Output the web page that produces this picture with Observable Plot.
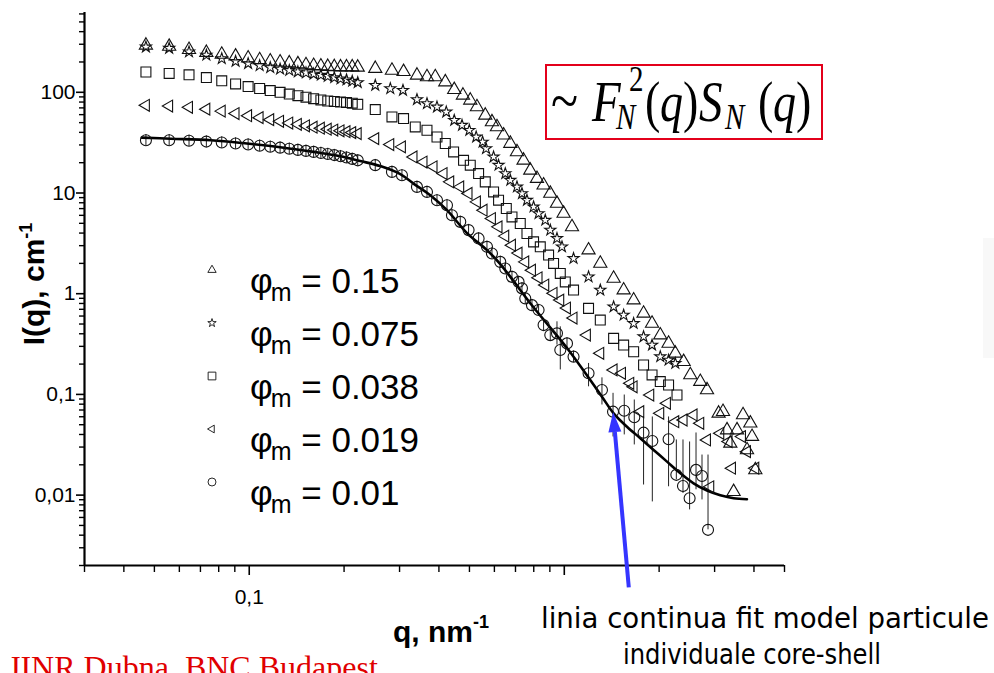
<!DOCTYPE html>
<html>
<head>
<meta charset="utf-8">
<script src="https://cdn.jsdelivr.net/npm/d3@7"></script>
<script src="https://cdn.jsdelivr.net/npm/@observablehq/plot@0.6"></script>
<style>
html,body{margin:0;padding:0;background:#fff;overflow:hidden}
#chart svg{display:block}
</style>
</head>
<body>
<div id="chart"></div>
<script>
// ---------------- data ----------------
// common low-q grid (first detector setting)
const qGrid = [0.047, 0.0557, 0.0644, 0.0731, 0.0818, 0.0905, 0.0992, 0.1079, 0.1166, 0.1253,
               0.134, 0.1427, 0.1514, 0.1601, 0.1688, 0.1775, 0.1862, 0.1949, 0.2036, 0.2123, 0.221];

// phi_m = 0.15 (triangles)
const triQ = [...qGrid, 0.2512, 0.2838, 0.3089, 0.3407, 0.3666, 0.3895, 0.4191, 0.4474, 0.4768, 0.503,
  0.5282, 0.5613, 0.5894, 0.6114, 0.6418, 0.6741, 0.7076, 0.7426, 0.78, 0.819,
  0.8596, 0.9027, 0.948, 0.9949, 1.058,
  1.194, 1.301, 1.434, 1.543, 1.66, 1.785, 1.899, 2.017, 2.143, 2.251,
  2.392, 2.512, 2.702, 2.838,
  3.089, 3.19, 3.693, 3.895, 3.285, 3.534, 3.944, 3.365, 3.802, 4.04, 3.447];
const triI = [293, 285, 265, 248, 238, 228, 218, 210, 204, 199, 195, 191, 187, 184, 182, 180, 179, 178, 178, 178, 177,
  172, 165, 160, 147.5, 142, 142, 126.5, 106, 93.4, 83.3,
  71.5, 59.1, 50.7, 45.3, 37.5, 31.0, 25.6, 21.1, 16.8, 13.9,
  11.95, 9.89, 7.87, 6.26, 4.61,
  2.71, 2.00, 1.42, 1.086, 0.864, 0.638, 0.507, 0.388, 0.321, 0.256,
  0.211, 0.156, 0.134, 0.1106,
  0.0649, 0.0674, 0.0625, 0.0517, 0.0443, 0.0443, 0.0381, 0.0327, 0.0281, 0.0178, 0.0108];

// phi_m = 0.075 (stars)
const starQ = [...qGrid, 0.2512, 0.2804, 0.3076, 0.3407, 0.3666, 0.3944, 0.4221, 0.4474, 0.4736, 0.4996,
  0.5252, 0.5505, 0.5646, 0.5964, 0.6185, 0.6497, 0.6741, 0.7076, 0.734, 0.7612,
  0.7989, 0.8287, 0.8703, 0.9027, 0.948, 0.9833,
  1.07, 1.194, 1.301, 1.434, 1.543, 1.66, 1.785, 1.899, 2.017, 2.143, 2.251];
const starI = [282, 274, 252, 234, 216, 203, 193, 184, 176, 170, 165, 160, 156, 152, 148, 144, 140, 136, 133, 129, 125,
  117.3, 108.8, 104.7, 84.7, 77.2, 71.5, 63.8, 52.7, 47.1, 42.0,
  36.0, 32.1, 27.6, 22.8, 18.9, 15.6, 13.4, 11.5, 9.89, 8.48,
  7.28, 6.26, 5.37, 4.28, 3.54, 2.92,
  2.24, 1.47, 1.086, 0.741, 0.613, 0.507, 0.374, 0.309, 0.237, 0.219, 0.203];

// phi_m = 0.038 (squares)
const sqQ = [...qGrid, 0.2512, 0.2838, 0.3089, 0.3365, 0.3666, 0.3944, 0.4191, 0.4453, 0.4789, 0.503,
  0.5346, 0.5613, 0.5964, 0.6185, 0.6546, 0.6823, 0.7249, 0.7612, 0.7989, 0.8391,
  0.8916, 0.9247, 0.9712, 1.0074,
  1.07, 1.194, 1.301, 1.434, 1.543, 1.66, 1.785, 1.899, 2.017, 2.143, 2.279];
const sqI = [159, 154, 149, 140, 130, 121, 114, 109, 104, 100, 96, 92.5, 89.5, 86.5, 84, 82, 81, 80, 79, 78, 76,
  67.4, 56.9, 54.8, 45.3, 42.0, 36.0, 31.0, 25.6, 21.1, 18.9,
  15.6, 12.9, 10.25, 8.48, 7.02, 5.79, 4.98, 3.96, 3.27, 2.92,
  2.42, 2.00, 1.59, 1.31,
  1.086, 0.715, 0.547, 0.360, 0.309, 0.265, 0.196, 0.156, 0.134, 0.124, 0.0986];

// phi_m = 0.019 (left triangles)
const ltQ = [...qGrid, 0.2512, 0.2804, 0.3053, 0.3323, 0.3575, 0.3847, 0.4139, 0.4346, 0.4675, 0.4968,
  0.5282, 0.5544, 0.5894, 0.6185, 0.6497, 0.6823, 0.716, 0.7519, 0.7897, 0.8287,
  0.8703, 0.9247, 0.9712, 1.02, 1.07,
  1.18, 1.301, 1.434, 1.525, 1.62, 1.66, 1.743, 1.875, 2.017, 2.118,
  2.251, 2.392, 2.573, 2.702, 2.838, 2.907, 3.128, 3.323, 3.407, 3.666,
  3.802, 4.04];
const ltI = [74.3, 73, 71, 68, 65, 61.5, 58.5, 56, 53.5, 51.5, 49.5, 48, 46.5, 45, 44, 43, 42.2, 41.5, 40.6, 39.8, 38.9,
  34.7, 30.3, 28.7, 22.8, 20.3, 18.2, 15.6, 12.9, 11.5, 9.89,
  8.16, 6.75, 5.58, 4.61, 3.73, 3.03, 2.53, 2.07, 1.71, 1.44,
  1.22, 1.01, 0.864, 0.72, 0.573,
  0.388, 0.256, 0.175, 0.162, 0.129, 0.119, 0.0674, 0.0986, 0.0649, 0.0816,
  0.0536, 0.0557, 0.0625, 0.0517, 0.0353, 0.0121, 0.0411, 0.034, 0.0185, 0.0381,
  0.027, 0.0185];

// phi_m = 0.01 (circles)
const circQ = [...qGrid, 0.2512, 0.2838, 0.3053, 0.3407, 0.3666, 0.3944, 0.4243, 0.44, 0.4675, 0.4968,
  0.5346, 0.5683, 0.5894, 0.6263, 0.6497, 0.6823, 0.716, 0.734, 0.7519, 0.7897,
  0.8287, 0.8596, 0.9027, 0.948, 0.9712, 1.02, 1.07,
  1.194, 1.317, 1.428, 1.55, 1.668, 1.785, 1.903, 2.143, 2.268, 2.381,
  2.499, 2.619, 2.736, 2.859];
const circI = [33.4, 33.4, 33.0, 32.4, 31.7, 31.0, 30.3, 29.5, 28.8, 28.2, 27.5, 26.8, 26.2, 25.6, 25.0, 24.4, 23.8, 23.2, 22.5, 21.8, 21.1,
  18.9, 16.2, 15.0, 11.5, 10.25, 8.48, 7.57, 6.02, 5.17, 4.28,
  3.54, 2.92, 2.51, 2.07, 1.78, 1.47, 1.31, 1.13, 0.898, 0.770,
  0.688, 0.488, 0.388, 0.404, 0.276, 0.321, 0.237,
  0.162, 0.1106, 0.0674, 0.0689, 0.0593, 0.0417, 0.0345, 0.0359, 0.0159, 0.0123,
  0.0093, 0.0178, 0.0155, 0.00452];
// error bars of the circles: long ones at high q, small ones (inside the circle) elsewhere
const circErrQ  = [0.948, 0.9712, 1.194, 1.317, 1.428, 1.55, 1.668, 1.785, 1.903, 2.143, 2.268, 2.381, 2.499, 2.619, 2.736, 2.859];
const circErrLo = [0.309, 0.175, 0.119, 0.0785, 0.0378, 0.0396, 0.0315, 0.0126, 0.00856, 0.0121, 0.0142, 0.0104, 0.00713, 0.0113, 0.00896, 0.00452];
const circErrHi = [0.526, 0.469, 0.203, 0.146, 0.1025, 0.0986, 0.088, 0.0597, 0.0597, 0.0597, 0.0353, 0.0353, 0.0337, 0.0414, 0.025, 0.025];
const smallRelErr = 0.14;

// continuous line: fit, model of individual core-shell particles
const fitQ = [0.0456, 0.0564, 0.0756, 0.0983, 0.1254, 0.16, 0.1945, 0.2249, 0.2605, 0.3016,
  0.3323, 0.3755, 0.4243, 0.491, 0.5683, 0.6263, 0.7972, 1.02, 1.209, 1.317,
  1.434, 1.581, 1.743, 1.921, 2.118, 2.335, 2.573, 2.838, 3.128, 3.447, 3.80];
const fitI = [35.5, 34.6, 33.4, 31.0, 28.5, 25.6, 23.2, 20.8, 18.5, 15.4,
  12.4, 9.51, 6.75, 4.0, 2.71, 1.97, 0.737, 0.289, 0.139, 0.0949,
  0.0649, 0.0478, 0.0367, 0.0281, 0.0215, 0.0165, 0.0131, 0.0111, 0.00998, 0.00931, 0.0091];

// axes
const xDomain = [0.03, 5];
const yDomain = [0.002, 620];
const xMajor = [0.1, 1];
const xMajorLabels = ["0,1", ""];
const yMajor = [100, 10, 1, 0.1, 0.01];
const yMajorLabels = ["100", "10", "1", "0,1", "0,01"];

// legend
const legendLabels = ["0.15", "0.075", "0.038", "0.019", "0.01"];

// annotations
const arrowTip = {q: 1.434, I: 0.066};
const arrowTail = {q: 1.608, I: 0.0012};

// ---------------- build ----------------
const rows = (qs, Is) => qs.map((q, i) => ({q, I: Is[i]}));
const tri = rows(triQ, triI), star = rows(starQ, starI), sq = rows(sqQ, sqI),
      lt = rows(ltQ, ltI), circ = rows(circQ, circI), fit = rows(fitQ, fitI);
const circBars = circ.map(d => {
  const k = circErrQ.indexOf(d.q);
  return k >= 0 ? {q: d.q, lo: circErrLo[k], hi: circErrHi[k]}
                : {q: d.q, lo: d.I / (1 + smallRelErr), hi: d.I * (1 + smallRelErr)};
});

const leftTriangle = {
  draw(context, size) {
    const y = -Math.sqrt(size / (3 * Math.sqrt(3)));
    context.moveTo(2 * y, 0);
    context.lineTo(-y, -Math.sqrt(3) * y);
    context.lineTo(-y, Math.sqrt(3) * y);
    context.closePath();
  }
};

const minorTicks = (lo, hi) => {
  const t = [];
  for (let e = Math.floor(Math.log10(lo)); e <= Math.ceil(Math.log10(hi)); e++)
    for (let m = 2; m <= 9; m++) {
      const v = +(m * Math.pow(10, e)).toPrecision(6);
      if (v >= lo * 0.999 && v <= hi * 1.001) t.push(v);
    }
  return t;
};
const xMinor = minorTicks(xDomain[0], xDomain[1]);
const yMinor = minorTicks(yDomain[0], yDomain[1]);

const font = "Liberation Sans, Arial, sans-serif";
const dotStyle = {x: "q", y: "I", stroke: "#111", strokeWidth: 1.1, fill: "none"};

const plot = Plot.plot({
  width: 994, height: 673,
  marginLeft: 84, marginRight: 210, marginTop: 12, marginBottom: 108,
  x: {type: "log", domain: xDomain, axis: null},
  y: {type: "log", domain: yDomain, axis: null},
  style: {background: "white", fontFamily: font, color: "black"},
  marks: [
    Plot.ruleX(circBars, {x: "q", y1: "lo", y2: "hi", stroke: "#222", strokeWidth: 1}),
    Plot.line(fit, {x: "q", y: "I", curve: "catmull-rom", stroke: "black", strokeWidth: 2.6}),
    Plot.dot(tri, {...dotStyle, symbol: "triangle", r: 4.9}),
    Plot.dot(star, {...dotStyle, symbol: "star", r: 3.5}),
    Plot.dot(sq, {...dotStyle, symbol: "square", r: 5.6}),
    Plot.dot(lt, {...dotStyle, symbol: leftTriangle, r: 4.4}),
    Plot.dot(circ, {...dotStyle, symbol: "circle", r: 5.5}),
    // axes
    Plot.axisY(yMajor, {anchor: "left", tickSize: 8, tickPadding: 1, strokeWidth: 1.6, label: null,
      tickFormat: d => yMajorLabels[yMajor.indexOf(d)], fontSize: 21, fontFamily: font}),
    Plot.axisY(yMinor, {anchor: "left", tickSize: 5, strokeWidth: 1.4, label: null, tickFormat: () => ""}),
    Plot.axisX(xMajor, {anchor: "bottom", tickSize: 10, tickPadding: 14, strokeWidth: 1.6, label: null,
      tickFormat: d => xMajorLabels[xMajor.indexOf(d)], fontSize: 21, fontFamily: font}),
    Plot.axisX(xMinor, {anchor: "bottom", tickSize: 7, strokeWidth: 1.4, label: null, tickFormat: () => ""}),
    Plot.ruleX([xDomain[0]], {stroke: "black", strokeWidth: 2.2}),
    Plot.ruleY([yDomain[0]], {stroke: "black", strokeWidth: 2.2})
  ]
});
document.getElementById("chart").appendChild(plot);

// ---------------- annotations ----------------
const svg = d3.select(plot);
const X = plot.scale("x"), Y = plot.scale("y");

// faint artefact at the right edge
svg.append("rect").attr("x", 983).attr("y", 238).attr("width", 11).attr("height", 120).attr("fill", "#f8f8f8");

// legend
const legendSymbols = [d3.symbolTriangle, d3.symbolStar, d3.symbolSquare, leftTriangle, d3.symbolCircle];
const legendSizes = [30, 22, 60, 26, 50];
const lg = svg.append("g").attr("font-family", font).attr("fill", "black").attr("text-anchor", "start");
legendLabels.forEach((lab, i) => {
  const base = 293 + i * 53;
  lg.append("path").attr("d", d3.symbol(legendSymbols[i], legendSizes[i])())
    .attr("transform", `translate(212,${base - 23})`).attr("fill", "none").attr("stroke", "#111").attr("stroke-width", 0.9);
  const t = lg.append("text").attr("x", 250).attr("y", base).attr("font-size", 35);
  t.append("tspan").text("φ");
  t.append("tspan").attr("font-size", 25).attr("dx", -2).attr("dy", 8).text("m");
  t.append("tspan").attr("dy", -8).text(" = " + lab);
});

// axis titles
const yt = svg.append("text").attr("transform", "translate(44,284) rotate(-90)")
  .attr("text-anchor", "middle").attr("font-family", font).attr("font-weight", "bold").attr("font-size", 30);
yt.append("tspan").text("I(q), cm");
yt.append("tspan").attr("font-size", 18).attr("dy", -12).text("-1");
const xt = svg.append("text").attr("x", 441).attr("y", 642)
  .attr("text-anchor", "middle").attr("font-family", font).attr("font-weight", "bold").attr("font-size", 30);
xt.append("tspan").text("q, nm");
xt.append("tspan").attr("font-size", 18).attr("dy", -14).text("-1");

// formula box
svg.append("rect").attr("x", 546).attr("y", 65).attr("width", 276).attr("height", 74)
  .attr("fill", "none").attr("stroke", "#e3001b").attr("stroke-width", 2);
const fg = svg.append("g").attr("transform", "translate(0,122) scale(1,1.22) translate(0,-122)")
  .attr("font-family", "Liberation Serif, Times New Roman, serif").attr("fill", "black").attr("text-anchor", "start");
const ftxt = (x, y, s, size, italic) => fg.append("text").attr("x", x).attr("y", y).attr("font-size", size)
  .attr("font-style", italic ? "italic" : "normal").text(s);
ftxt(551, 121, "~", 50, false);
ftxt(592, 121, "F", 47, true);
ftxt(616, 128, "N", 29, true);
ftxt(629, 97, "2", 29, false);
ftxt(645, 121, "(", 46, false);
ftxt(660, 121, "q", 46, true);
ftxt(683, 121, ")", 46, false);
ftxt(699, 121, "S", 47, true);
ftxt(725, 128, "N", 29, true);
ftxt(758, 121, "(", 46, false);
ftxt(773, 121, "q", 46, true);
ftxt(796, 121, ")", 46, false);

// blue arrow
const tx = X.apply(arrowTip.q), ty = Y.apply(arrowTip.I);
const sx = X.apply(arrowTail.q), sy = Y.apply(arrowTail.I);
const ang = Math.atan2(ty - sy, tx - sx);
const hl = 20, hw = 6.5;
const bx = tx - hl * Math.cos(ang), by = ty - hl * Math.sin(ang);
svg.append("line").attr("x1", sx).attr("y1", sy).attr("x2", bx).attr("y2", by)
  .attr("stroke", "#3535ff").attr("stroke-width", 4);
svg.append("path").attr("d", `M${tx},${ty}L${bx + hw * Math.sin(ang)},${by - hw * Math.cos(ang)}L${bx - hw * Math.sin(ang)},${by + hw * Math.cos(ang)}Z`)
  .attr("fill", "#3535ff");

// captions
const cap = svg.append("g").attr("font-family", "DejaVu Sans Condensed, DejaVu Sans, sans-serif").attr("font-size", 29).attr("fill", "black").attr("text-anchor", "middle");
cap.append("text").attr("x", 765).attr("y", 628).attr("textLength", 448).attr("lengthAdjust", "spacingAndGlyphs").text("linia continua fit model particule");
cap.append("text").attr("x", 752).attr("y", 664).attr("textLength", 258).attr("lengthAdjust", "spacingAndGlyphs").text("individuale core-shell");

svg.append("text").attr("x", 8).attr("y", 678).attr("text-anchor", "start").attr("font-family", "Liberation Serif, Times New Roman, serif")
  .attr("font-size", 32).attr("fill", "#e00000").text("JINR Dubna, BNC Budapest");
</script>
</body>
</html>
